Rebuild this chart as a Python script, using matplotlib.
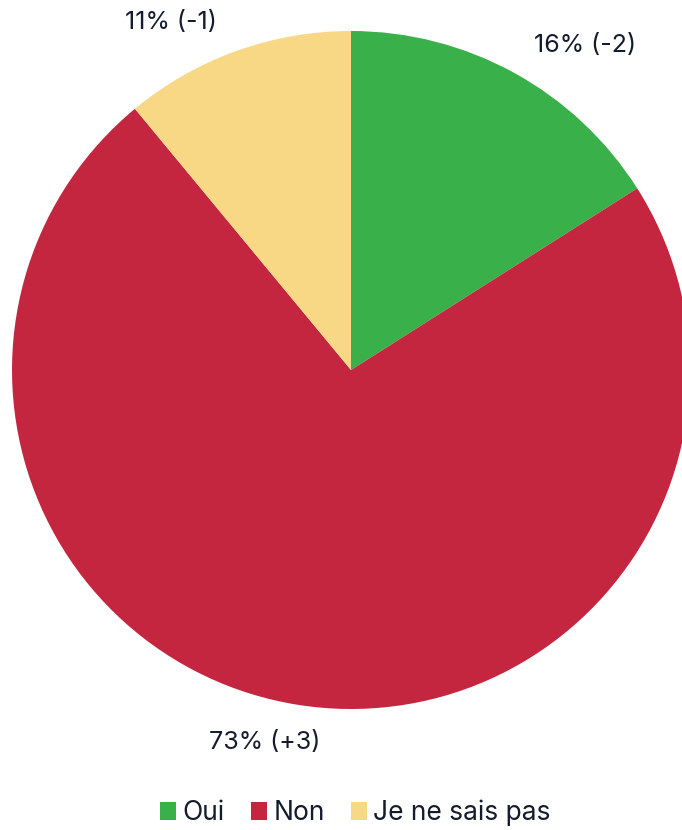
import matplotlib
matplotlib.use('Agg')
import matplotlib.pyplot as plt
import numpy as np

categories = ['Oui', 'Non', 'Je ne sais pas']
values = [16, 73, 11]
changes = ['-2', '+3', '-1']
colors = ['#39B04A', '#C42640', '#F9D885']

plt.rcParams['font.family'] = ['Inter', 'DejaVu Sans']
text_color = '#141B2D'

W, H = 682, 830
cx, cy, r = 351, 370, 339

fig = plt.figure(figsize=(W / 100, H / 100), dpi=100)
ax = fig.add_axes([0, 0, 1, 1])

wedges, _ = ax.pie(values, colors=colors, startangle=90, counterclock=False,
                   radius=1, center=(0, 0), frame=True)
ax.set_xlim(-cx / r, (W - cx) / r)
ax.set_ylim(-(H - cy) / r, cy / r)
ax.set_aspect('equal')
ax.axis('off')

# label placement tweaks (pixels)
nudges = [(2, -4), (28, -2), (-7, -5)]
for w, v, c, (dx, dy) in zip(wedges, values, changes, nudges):
    ang = np.deg2rad((w.theta1 + w.theta2) / 2)
    x, y = 1.106 * np.cos(ang), 1.106 * np.sin(ang)
    ha = 'left' if x > 0 else 'right'
    ax.annotate('%d%% (%s)' % (v, c), (x, y), xytext=(dx * 0.72, dy * 0.72),
                textcoords='offset points', ha=ha, va='center',
                fontsize=18, color=text_color)

leg = fig.legend(wedges, categories, loc='center', bbox_to_anchor=(0.521, 1 - 813 / H),
                 ncol=3, frameon=False, fontsize=19, handlelength=0.6, handleheight=0.65,
                 handletextpad=0.25, columnspacing=1.0, labelcolor=text_color)

plt.savefig('out.png', dpi=100)
